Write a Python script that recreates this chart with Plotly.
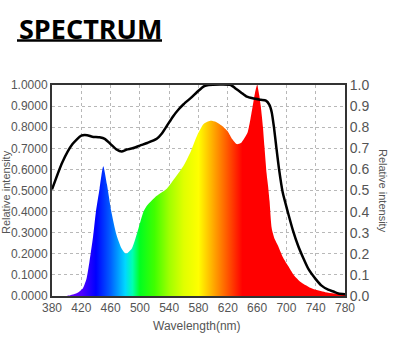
import plotly.graph_objects as go

# Coloured LED spectrum (relative intensity)
spec_wl = [380, 400, 405, 415, 422, 427, 431, 436, 440, 445, 450, 455, 461, 468, 475, 481,
           489, 498, 505, 510, 523, 537, 548, 560, 570, 578, 587, 596, 604, 612, 620, 626,
           632, 638, 643, 647, 651, 654, 657, 660, 663, 665, 668, 670, 673, 675, 677, 680,
           684, 689, 695, 702, 710, 720, 735, 753, 765, 780]
spec_val = [0.0, 0.0, 0.003, 0.015, 0.035, 0.08, 0.16, 0.28, 0.40, 0.51, 0.615, 0.53, 0.40, 0.29, 0.225, 0.20,
            0.225, 0.32, 0.40, 0.43, 0.475, 0.51, 0.56, 0.62, 0.69, 0.76, 0.815, 0.83, 0.825, 0.807, 0.78, 0.744,
            0.72, 0.725, 0.75, 0.775, 0.84, 0.90, 0.96, 1.0, 0.95, 0.90, 0.80, 0.71, 0.58, 0.52, 0.45, 0.32,
            0.27, 0.235, 0.185, 0.144, 0.10, 0.065, 0.035, 0.018, 0.012, 0.008]

# Black reference curve
ref_wl = [380, 394, 408, 420, 428, 435, 445, 452, 460, 468, 475, 482, 490, 500, 510, 523,
          530, 537, 545, 553, 560, 570, 580, 588, 594, 624, 630, 638, 646, 654, 665, 672,
          677, 680, 683, 686, 690, 695, 702, 709, 716, 723, 730, 740, 748, 757, 765, 771, 780]
ref_val = [0.505, 0.633, 0.72, 0.76, 0.762, 0.755, 0.752, 0.745, 0.72, 0.695, 0.685, 0.694, 0.70, 0.713, 0.725, 0.745,
           0.77, 0.807, 0.85, 0.885, 0.91, 0.94, 0.973, 0.995, 1.0, 1.0, 0.985, 0.965, 0.945, 0.937, 0.93, 0.926,
           0.905, 0.87, 0.80, 0.712, 0.60, 0.49, 0.397, 0.31, 0.238, 0.18, 0.128, 0.08, 0.049, 0.03, 0.02, 0.012, 0.008]

x_ticks = [380, 420, 460, 500, 540, 580, 620, 660, 700, 740, 780]
y_ticks = [0.0, 0.1, 0.2, 0.3, 0.4, 0.5, 0.6, 0.7, 0.8, 0.9, 1.0]

wl_colors = [
    [0.0, "#8000ff"], [0.1, "#5000ff"], [0.15, "#0000ff"], [0.2, "#0060ff"],
    [0.25, "#00d8ff"], [0.275, "#00ffb0"], [0.3, "#00ff20"], [0.35, "#40ff00"],
    [0.4, "#a0ff00"], [0.45, "#e0ff00"], [0.5, "#ffff00"], [0.5375, "#ffc000"],
    [0.575, "#ff8000"], [0.6125, "#ff4000"], [0.65, "#ff0000"], [1.0, "#ff0000"],
]

fig = go.Figure()
fig.add_trace(go.Scatter(
    x=spec_wl, y=spec_val, mode="lines", line=dict(width=0, shape="spline", smoothing=0.6),
    fill="tozeroy",
    fillgradient=dict(type="horizontal", colorscale=wl_colors, start=380, stop=780),
    hoverinfo="skip", showlegend=False,
))
fig.add_trace(go.Scatter(
    x=ref_wl, y=ref_val, mode="lines", yaxis="y2",
    line=dict(color="black", width=2.5, shape="spline", smoothing=0.6),
    showlegend=False,
))

tick_font = dict(family="Liberation Sans, Arial", size=12, color="#555")
fig.update_layout(
    width=400, height=351,
    margin=dict(l=52, r=55, t=85, b=55),
    paper_bgcolor="white", plot_bgcolor="white",
    xaxis=dict(range=[380, 780], tickvals=x_ticks, showgrid=True, gridcolor="#b8b8b8",
               griddash="dot", gridwidth=1, showline=True, mirror=True, linecolor="#333",
               linewidth=2, zeroline=False, tickfont=tick_font, ticks=""),
    yaxis=dict(range=[0, 1], tickvals=y_ticks, tickformat=".4f", showgrid=True,
               gridcolor="#b8b8b8", griddash="dot", gridwidth=1, showline=True,
               linecolor="#333", linewidth=2, zeroline=False, tickfont=tick_font, ticks=""),
    yaxis2=dict(range=[0, 1], tickvals=y_ticks, tickformat=".1f", overlaying="y",
                side="right", showgrid=False, showline=True, linecolor="#333", linewidth=2,
                zeroline=False, tickfont=dict(family="Liberation Sans, Arial", size=14, color="#555"),
                ticks=""),
)

def px_x(p):
    return (p - 52) / 293.0

def px_y(p):
    return (296 - p) / 211.0

ann_font = dict(family="Liberation Sans, Arial", size=11, color="#555")
fig.add_annotation(text="<b>SPECTRUM</b>", xref="paper", yref="paper",
                   x=px_x(17), y=px_y(28), xanchor="left", yanchor="middle", showarrow=False,
                   font=dict(family="Open Sans", size=27, color="black"))
fig.add_shape(type="line", xref="paper", yref="paper", x0=px_x(17), x1=px_x(162),
              y0=px_y(40.5), y1=px_y(40.5), line=dict(color="black", width=2.5))
fig.add_annotation(text="Relative intensity", xref="paper", yref="paper",
                   x=px_x(6), y=px_y(192), textangle=-90, showarrow=False,
                   xanchor="center", yanchor="middle", font=ann_font)
fig.add_annotation(text="Relative intensity", xref="paper", yref="paper",
                   x=px_x(383), y=px_y(191), textangle=90, showarrow=False,
                   xanchor="center", yanchor="middle", font=ann_font)
fig.add_annotation(text="Wavelength(nm)", xref="paper", yref="paper",
                   x=px_x(197), y=px_y(326), showarrow=False,
                   xanchor="center", yanchor="middle",
                   font=dict(family="Liberation Sans, Arial", size=12, color="#555"))

fig.write_html("out.html")
